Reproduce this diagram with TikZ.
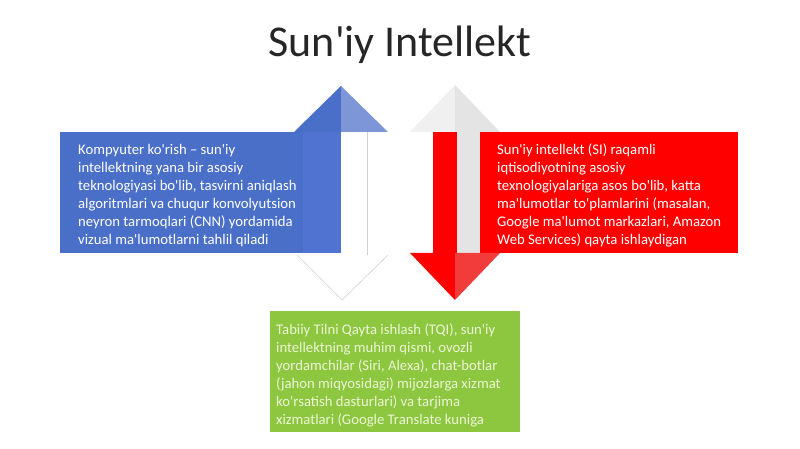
\documentclass[tikz,border=0pt]{standalone}
\usepackage{fontspec}
\setmainfont{Carlito}[Ligatures=TeXOff]
\definecolor{cvblue}{RGB}{74,111,200}
\definecolor{cvshaft}{RGB}{80,114,208}
\definecolor{cvbluelight}{RGB}{125,150,216}
\definecolor{sired}{RGB}{255,0,0}
\definecolor{siredlight}{RGB}{242,60,60}
\definecolor{nlpgreen}{RGB}{141,198,63}
\definecolor{nlptext}{RGB}{236,246,214}
\definecolor{pale}{RGB}{240,240,240}
\definecolor{paledark}{RGB}{228,228,228}
\definecolor{titlegray}{RGB}{38,38,38}
\tikzset{
  panel/.style={inner sep=0pt, anchor=north west},
  bodytext/.style={inner sep=0pt, anchor=north west, align=left,
    font=\fontsize{14.7bp}{18bp}\selectfont},
  outline/.style={draw=black!18, line width=0.6bp}
}
\begin{document}
\begin{tikzpicture}[x=1bp,y=-1bp]
\useasboundingbox (0,0) rectangle (800,449);
\fill[white] (0,0) rectangle (800,449);
% title
\node[text=titlegray, font=\fontsize{44bp}{48bp}\selectfont] (title) at (400,45) {Sun'iy Intellekt};

% ---- left group: blue box, blue up arrow, white down arrow
\fill[cvblue] (294,132) -- (341,86) -- (341,132) -- cycle;
\fill[cvbluelight] (341,86) -- (388,132) -- (341,132) -- cycle;
\fill[white] (297,255) -- (388,255) -- (342,300) -- cycle;
\draw[outline] (297,255) -- (342,300) -- (388,255);
\fill[white] (341,132) rectangle (367,255);
\draw[outline] (367,132) -- (367,255);
\node[panel, fill=cvblue, minimum width=281bp, minimum height=121bp] (cvbox) at (60,132) {};
\fill[cvshaft] (303,132) rectangle (341,253);

% ---- right group: red box, pale up arrow, red down arrow
\fill[pale] (410,132) -- (455,85) -- (455,132) -- cycle;
\fill[paledark] (455,85) -- (500,132) -- (455,132) -- cycle;
\node[panel, fill=sired, minimum width=305bp, minimum height=121bp] (sibox) at (433,132) {};
\fill[paledark] (457,132) rectangle (480,253);
\fill[sired] (410,253) -- (455,253) -- (455,300) -- cycle;
\fill[siredlight] (455,253) -- (500,253) -- (455,300) -- cycle;

% ---- bottom green box
\node[panel, fill=nlpgreen, minimum width=250bp, minimum height=121bp] (nlpbox) at (270,311) {};

% texts
\node[bodytext, text=white] (cvtext) at (78,144) {Kompyuter ko'rish – sun'iy\\intellektning yana bir asosiy\\teknologiyasi bo'lib, tasvirni aniqlash\\algoritmlari va chuqur konvolyutsion\\neyron tarmoqlari (CNN) yordamida\\vizual ma'lumotlarni tahlil qiladi};
\node[bodytext, text=white] (sitext) at (497,144) {Sun'iy intellekt (SI) raqamli\\iqtisodiyotning asosiy\\texnologiyalariga asos bo'lib, katta\\ma'lumotlar to'plamlarini (masalan,\\Google ma'lumot markazlari, Amazon\\Web Services) qayta ishlaydigan};
\node[bodytext, text=nlptext] (nlptext) at (276,324) {Tabiiy Tilni Qayta ishlash (TQI), sun'iy\\intellektning muhim qismi, ovozli\\yordamchilar (Siri, Alexa), chat-botlar\\(jahon miqyosidagi) mijozlarga xizmat\\ko'rsatish dasturlari) va tarjima\\xizmatlari (Google Translate kuniga};
\end{tikzpicture}
\end{document}
